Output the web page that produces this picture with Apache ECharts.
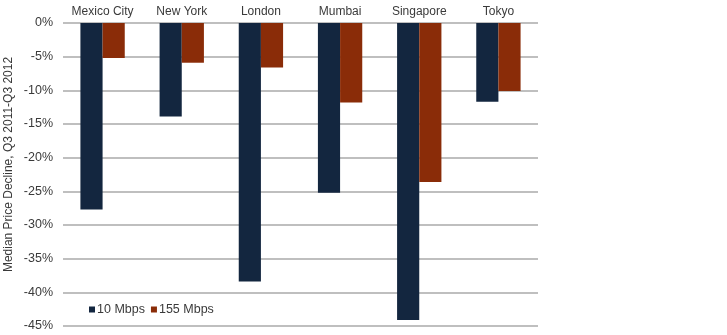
<!DOCTYPE html>
<html><head><meta charset="utf-8">
<script src="https://cdn.jsdelivr.net/npm/echarts@6/dist/echarts.min.js"></script>
<style>html,body{margin:0;padding:0;background:#fff}#c{width:727px;height:335px}</style>
</head><body><div id="c"></div>
<script>
const categories = ["Mexico City", "New York", "London", "Mumbai", "Singapore", "Tokyo"];
const mbps10 = [-27.7, -13.9, -38.4, -25.2, -44.1, -11.7];
const mbps155 = [-5.2, -5.9, -6.6, -11.8, -23.6, -10.1];
const seriesNames = ["10 Mbps", "155 Mbps"];
const yTicks = [0, -5, -10, -15, -20, -25, -30, -35, -40, -45];
const yTitle = "Median Price Decline, Q3 2011-Q3 2012";

const chart = echarts.init(document.getElementById('c'), null, {renderer: 'canvas'});
const font = "'Liberation Sans', Arial, sans-serif";
chart.setOption({
  animation: false,
  textStyle: {fontFamily: font},
  grid: {left: 63, right: 189, top: 23, bottom: 9, containLabel: false, outerBoundsMode: 'none'},
  legend: {
    data: seriesNames, left: 84, top: 298, itemWidth: 6, itemHeight: 6, itemGap: 6,
    icon: 'rect', textStyle: {fontSize: 12.5, color: '#3a3a3a', fontFamily: font, padding: [0,0,0,-3]}
  },
  xAxis: {
    type: 'category', data: categories, position: 'top',
    axisLine: {show: false}, axisTick: {show: false},
    axisLabel: {color: '#3a3a3a', fontSize: 12, margin: 5, fontFamily: font, interval: 0}
  },
  yAxis: {
    type: 'value', min: -45, max: 0, interval: 5,
    name: yTitle, nameLocation: 'middle', nameGap: 48, nameRotate: 90, nameMoveOverlap: false,
    nameTextStyle: {color: '#3a3a3a', fontSize: 12, fontFamily: font, padding: [0, 0, 0, 20]},
    axisLine: {show: false}, axisTick: {show: false},
    axisLabel: {color: '#3a3a3a', fontSize: 12.5, margin: 10, fontFamily: font, formatter: v => v + '%'},
    splitLine: {lineStyle: {color: '#aaaaaa', width: 1.5}}
  },
  series: [
    {name: seriesNames[0], type: 'bar', data: mbps10, barGap: '0%', barCategoryGap: '44%',
     itemStyle: {color: '#13263f'}},
    {name: seriesNames[1], type: 'bar', data: mbps155, barGap: '0%', barCategoryGap: '44%',
     itemStyle: {color: '#8a2c08'}}
  ]
});
</script></body></html>
